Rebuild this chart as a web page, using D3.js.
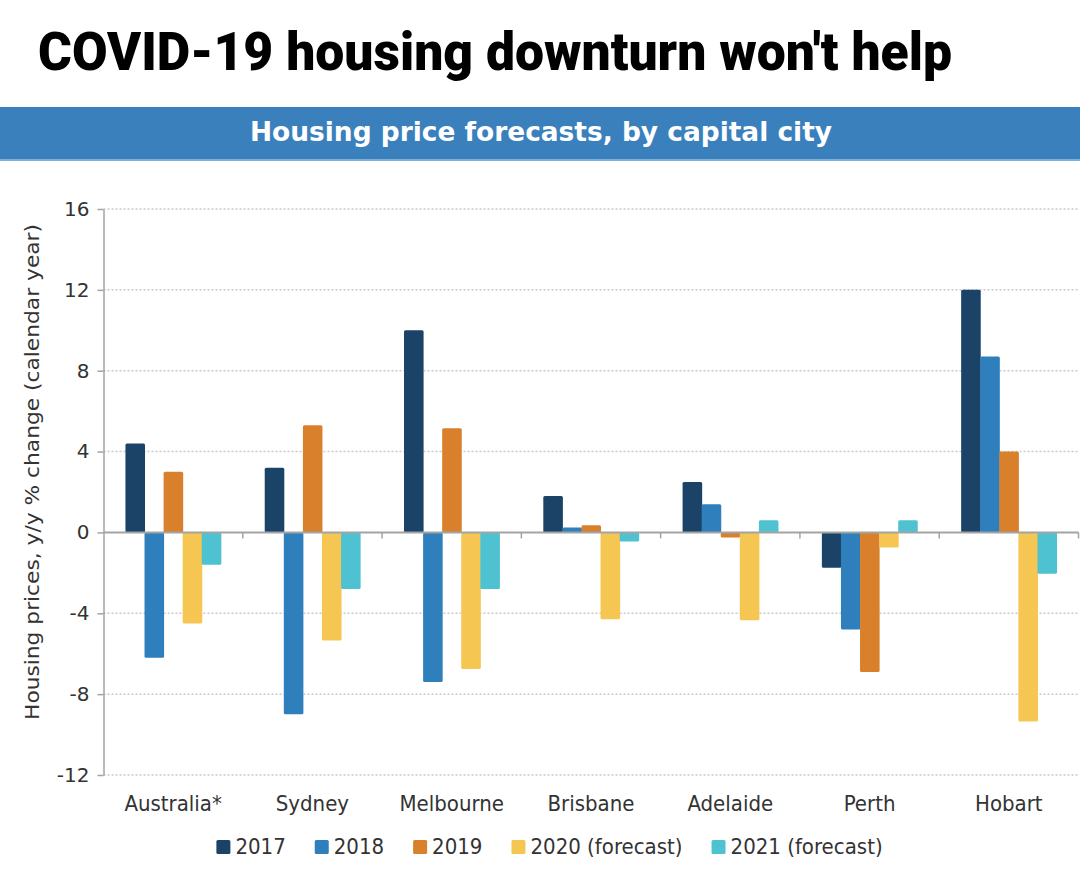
<!DOCTYPE html>
<html>
<head>
<meta charset="utf-8">
<script src="https://cdn.jsdelivr.net/npm/d3@7"></script>
<style>
  html, body { margin: 0; padding: 0; background: #ffffff; }
  svg { display: block; }
</style>
</head>
<body>
<script>
// ---- data ----
const categories = ["Australia*", "Sydney", "Melbourne", "Brisbane", "Adelaide", "Perth", "Hobart"];
const seriesNames = ["2017", "2018", "2019", "2020 (forecast)", "2021 (forecast)"];
const values2017 = [4.4, 3.2, 10.0, 1.8, 2.5, -1.75, 12.0];
const values2018 = [-6.2, -9.0, -7.4, 0.25, 1.4, -4.8, 8.7];
const values2019 = [3.0, 5.3, 5.15, 0.35, -0.25, -6.9, 4.0];
const values2020 = [-4.5, -5.35, -6.75, -4.3, -4.35, -0.75, -9.35];
const values2021 = [-1.6, -2.8, -2.8, -0.45, 0.6, 0.6, -2.05];
const yTicks = [-12, -8, -4, 0, 4, 8, 12, 16];
const yTickLabels = ["-12", "-8", "-4", "0", "4", "8", "12", "16"];
const titleText = "COVID-19 housing downturn won't help";
const headerText = "Housing price forecasts, by capital city";
const yTitleText = "Housing prices, y/y % change (calendar year)";

const seriesValues = [values2017, values2018, values2019, values2020, values2021];
const seriesColors = ["#1b4368", "#2f7fbd", "#d8802b", "#f5c652", "#4fc2d2"];

// ---- layout ----
const W = 1080, H = 881;
const plot = { left: 103.5, right: 1078.5, top: 209, bottom: 775 };

const svg = d3.select("body").append("svg")
  .attr("width", W).attr("height", H);

// Title
svg.append("text")
  .attr("x", 38).attr("y", 70)
  .attr("font-family", "Roboto, 'Open Sans', sans-serif")
  .attr("font-weight", 900)
  .attr("font-size", 53)
  .attr("fill", "#000")
  .attr("textLength", 914)
  .attr("lengthAdjust", "spacingAndGlyphs")
  .text(titleText);

// Header bar
svg.append("rect")
  .attr("x", 0).attr("y", 107).attr("width", W).attr("height", 53)
  .attr("fill", "#3a80bd");
svg.append("rect")
  .attr("x", 0).attr("y", 159).attr("width", W).attr("height", 2)
  .attr("fill", "#7fb0d8");
svg.append("text")
  .attr("x", 541).attr("y", 141)
  .attr("text-anchor", "middle")
  .attr("font-family", "'DejaVu Sans', Verdana, sans-serif")
  .attr("font-weight", "bold")
  .attr("font-size", 26)
  .attr("fill", "#ffffff")
  .attr("textLength", 582)
  .attr("lengthAdjust", "spacingAndGlyphs")
  .text(headerText);

// Scales
const y = d3.scaleLinear().domain([-12, 16]).range([plot.bottom, plot.top]);
const x0 = d3.scaleBand().domain(categories).range([plot.left, plot.right]).padding(0);
const x1 = d3.scaleBand().domain(seriesNames).range([0, x0.bandwidth()])
  .paddingInner(0).paddingOuter(1.15);

const g = svg.append("g");

// Gridlines (dotted)
g.selectAll("line.grid").data(yTicks.filter(t => t !== 0)).enter().append("line")
  .attr("class", "grid")
  .attr("x1", plot.left).attr("x2", plot.right)
  .attr("y1", d => y(d)).attr("y2", d => y(d))
  .attr("stroke", "#c9c9c9").attr("stroke-width", 1.5)
  .attr("stroke-dasharray", "2,2");

// Bars
const barData = [];
categories.forEach((c, i) => {
  seriesNames.forEach((s, j) => {
    barData.push({ cat: c, series: s, value: seriesValues[j][i], color: seriesColors[j] });
  });
});
g.selectAll("rect.bar").data(barData).enter().append("rect")
  .attr("class", "bar")
  .attr("x", d => x0(d.cat) + x1(d.series))
  .attr("width", x1.bandwidth() + 0.5)
  .attr("y", d => Math.min(y(d.value), y(0)))
  .attr("height", d => Math.abs(y(d.value) - y(0)))
  .attr("rx", 1.5)
  .attr("fill", d => d.color);

// Zero line
g.append("line")
  .attr("x1", plot.left).attr("x2", plot.right)
  .attr("y1", y(0)).attr("y2", y(0))
  .attr("stroke", "#a3a3a3").attr("stroke-width", 2);

// Category boundary ticks on zero line
const boundaries = categories.map(c => x0(c) + x0.bandwidth());
g.selectAll("line.ctick").data(boundaries).enter().append("line")
  .attr("class", "ctick")
  .attr("x1", d => d).attr("x2", d => d)
  .attr("y1", y(0)).attr("y2", y(0) + 6)
  .attr("stroke", "#a3a3a3").attr("stroke-width", 1.5);

// Y axis
const yAxis = d3.axisLeft(y).tickValues(yTicks).tickSize(6).tickSizeOuter(0).tickPadding(8)
  .tickFormat((d, i) => yTickLabels[i]);
const ya = svg.append("g")
  .attr("transform", `translate(${plot.left},0)`)
  .call(yAxis);
ya.select(".domain").attr("stroke", "#a3a3a3").attr("stroke-width", 1.5);
ya.selectAll(".tick line").attr("stroke", "#a3a3a3").attr("stroke-width", 1.5);
ya.selectAll(".tick text")
  .attr("font-family", "'DejaVu Sans', sans-serif")
  .attr("font-size", 20)
  .attr("fill", "#333");

// Y title
svg.append("text")
  .attr("transform", `translate(39,${(plot.top + plot.bottom) / 2 - 20}) rotate(-90)`)
  .attr("text-anchor", "middle")
  .attr("font-family", "'DejaVu Sans Condensed', 'DejaVu Sans', sans-serif")
  .attr("font-stretch", "condensed")
  .attr("font-size", 20)
  .attr("fill", "#333")
  .attr("textLength", 496)
  .attr("lengthAdjust", "spacingAndGlyphs")
  .text(yTitleText);

// X labels
svg.selectAll("text.xlab").data(categories).enter().append("text")
  .attr("class", "xlab")
  .attr("x", d => x0(d) + x0.bandwidth() / 2)
  .attr("y", 811)
  .attr("text-anchor", "middle")
  .attr("font-family", "'DejaVu Sans Condensed', 'DejaVu Sans', sans-serif")
  .attr("font-stretch", "condensed")
  .attr("font-size", 22)
  .attr("fill", "#333")
  .text(d => d);

// Legend
const legend = svg.append("g");
const items = legend.selectAll("g.item").data(seriesNames).enter().append("g").attr("class", "item");
items.append("rect")
  .attr("width", 14).attr("height", 14)
  .attr("y", 840).attr("rx", 1.5)
  .attr("fill", (d, i) => seriesColors[i]);
items.append("text")
  .attr("x", 19).attr("y", 854)
  .attr("font-family", "'DejaVu Sans Condensed', 'DejaVu Sans', sans-serif")
  .attr("font-stretch", "condensed")
  .attr("font-size", 22)
  .attr("fill", "#333")
  .text(d => d);
// position items by measured widths, centred
let widths = [];
items.each(function() { widths.push(19 + d3.select(this).select("text").node().getComputedTextLength()); });
const gap = 29;
const total = d3.sum(widths) + gap * (widths.length - 1);
let cx = 549.5 - total / 2;
items.each(function(d, i) {
  d3.select(this).attr("transform", `translate(${cx},0)`);
  cx += widths[i] + gap;
});
</script>
</body>
</html>
